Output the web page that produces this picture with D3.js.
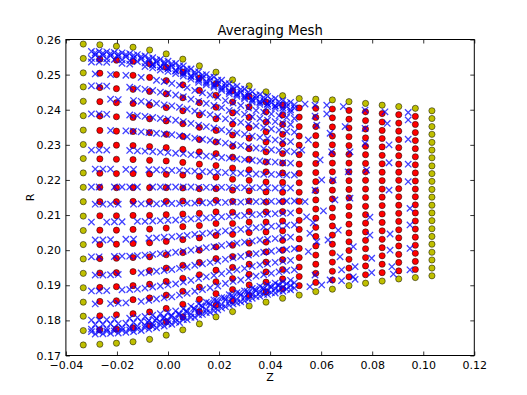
<!DOCTYPE html>
<meta charset="utf-8">
<style>
  body { margin: 0; background: #fff; }
  text { font-family: "DejaVu Sans", sans-serif; }
</style>
<svg width="527" height="395"></svg>
<script src="https://d3js.org/d3.v7.min.js"></script>
<script>

// mesh column positions along Z
var colZ = [-0.0332, -0.0267, -0.0202, -0.0137, -0.0072, -0.0007, 0.0058, 0.0123, 0.0188, 0.0253, 0.0318,
            0.0384, 0.0449, 0.0514, 0.0579, 0.0644, 0.0709, 0.0774, 0.0839, 0.0904, 0.0969, 0.1034];

// mesh node R values, one list per column, bottom to top
var meshR = [
  [.1730,.1771,.1812,.1852,.1893,.1934,.1975,.2016,.2056,.2097,.2138,.2179,.2220,.2261,.2301,.2342,.2383,.2424,.2465,.2505,.2546,.2587],
  [.1732,.1773,.1813,.1854,.1894,.1935,.1976,.2016,.2057,.2098,.2138,.2179,.2219,.2260,.2301,.2341,.2382,.2423,.2463,.2504,.2544,.2585],
  [.1735,.1775,.1816,.1856,.1896,.1936,.1977,.2017,.2057,.2098,.2138,.2178,.2218,.2259,.2299,.2339,.2380,.2420,.2460,.2500,.2541,.2581],
  [.1739,.1779,.1819,.1859,.1899,.1939,.1979,.2019,.2059,.2099,.2139,.2178,.2218,.2258,.2298,.2338,.2378,.2418,.2458,.2498,.2538,.2578],
  [.1746,.1785,.1824,.1864,.1903,.1942,.1981,.2021,.2060,.2099,.2138,.2178,.2217,.2256,.2295,.2335,.2374,.2413,.2452,.2492,.2531,.2570],
  [.1758,.1796,.1834,.1872,.1911,.1949,.1987,.2025,.2063,.2101,.2139,.2178,.2216,.2254,.2292,.2330,.2368,.2406,.2445,.2483,.2521,.2559],
  [.1773,.1810,.1846,.1883,.1920,.1957,.1993,.2030,.2067,.2103,.2140,.2177,.2214,.2250,.2287,.2324,.2360,.2397,.2434,.2471,.2507,.2544],
  [.1790,.1825,.1860,.1895,.1930,.1965,.2000,.2035,.2070,.2105,.2140,.2175,.2210,.2245,.2280,.2315,.2350,.2385,.2420,.2455,.2490,.2525],
  [.1810,.1843,.1876,.1910,.1943,.1976,.2009,.2042,.2076,.2109,.2142,.2175,.2208,.2241,.2275,.2308,.2341,.2374,.2407,.2441,.2474,.2507],
  [.1825,.1856,.1888,.1919,.1951,.1982,.2014,.2045,.2076,.2108,.2139,.2171,.2202,.2234,.2265,.2296,.2328,.2359,.2391,.2422,.2454,.2485],
  [.1841,.1871,.1901,.1931,.1960,.1990,.2020,.2050,.2080,.2110,.2140,.2169,.2199,.2229,.2259,.2289,.2319,.2349,.2378,.2408,.2438,.2468],
  [.1852,.1881,.1909,.1938,.1966,.1995,.2023,.2052,.2080,.2109,.2137,.2166,.2194,.2223,.2251,.2280,.2308,.2337,.2365,.2394,.2422,.2451],
  [.1863,.1890,.1918,.1945,.1973,.2000,.2028,.2055,.2083,.2110,.2138,.2165,.2193,.2220,.2248,.2275,.2303,.2330,.2358,.2385,.2413,.2440],
  [.1872,.1899,.1925,.1952,.1979,.2005,.2032,.2059,.2085,.2112,.2139,.2165,.2192,.2219,.2245,.2272,.2299,.2325,.2352,.2379,.2405,.2432],
  [.1882,.1908,.1934,.1960,.1986,.2012,.2039,.2065,.2091,.2117,.2143,.2169,.2195,.2221,.2247,.2273,.2300,.2326,.2352,.2378,.2404,.2430],
  [.1889,.1915,.1940,.1966,.1992,.2017,.2043,.2069,.2094,.2120,.2146,.2171,.2197,.2223,.2248,.2274,.2300,.2325,.2351,.2377,.2402,.2428],
  [.1899,.1924,.1949,.1974,.1999,.2024,.2049,.2074,.2099,.2124,.2149,.2173,.2198,.2223,.2248,.2273,.2298,.2323,.2348,.2373,.2398,.2423],
  [.1906,.1930,.1955,.1979,.2004,.2028,.2052,.2077,.2101,.2125,.2150,.2174,.2199,.2223,.2247,.2272,.2296,.2320,.2345,.2369,.2394,.2418],
  [.1912,.1936,.1960,.1984,.2007,.2031,.2055,.2079,.2103,.2127,.2151,.2174,.2198,.2222,.2246,.2270,.2294,.2318,.2341,.2365,.2389,.2413],
  [.1918,.1941,.1965,.1988,.2012,.2035,.2058,.2082,.2105,.2128,.2152,.2175,.2199,.2222,.2245,.2269,.2292,.2315,.2339,.2362,.2386,.2409],
  [.1922,.1945,.1968,.1991,.2014,.2037,.2060,.2083,.2106,.2129,.2152,.2174,.2197,.2220,.2243,.2266,.2289,.2312,.2335,.2358,.2381,.2404],
  [.1927,.1949,.1972,.1994,.2017,.2039,.2061,.2084,.2106,.2128,.2151,.2173,.2196,.2218,.2240,.2263,.2285,.2307,.2330,.2352,.2375,.2397]
];

// Z stations of the sample streaks (even streaks use A, odd use B)
var stationsA = [-0.030,-0.027,-0.024,-0.021,-0.018,-0.015,-0.012,-0.009,-0.006,-0.003,0,0.003,0.006,0.009,
                 0.012,0.015,0.018,0.021,0.024,0.027,0.030,0.033,0.036,0.039,0.042,0.045,0.048];
var stationsB = [-0.0285,-0.0255,-0.0225,-0.0195,-0.0165,-0.0135,-0.0105,-0.0075,-0.0045,-0.0015,0.0015,0.0045,0.0075,
                 0.0105,0.0135,0.0165,0.0195,0.0225,0.0255,0.0285,0.0315,0.0345,0.0375,0.0405,0.0435,0.0465,0.0495];

// R of each streak at its stations (null = gap)
var streakR = [
  [.2566,.2566,.2565,.2563,.2562,.2560,.2557,.2553,.2548,.2543,.2538,.2532,.2525,.2516,.2508,.2500,.2493,.2484,.2474,.2467,.2459,.2451,.2443,.2438,.2432,.2426,.2421],
  [.2556,.2555,.2554,.2552,.2551,.2548,.2545,.2540,.2535,.2530,.2524,.2517,.2509,.2500,.2492,.2484,.2476,.2466,.2457,.2450,.2441,.2433,.2426,.2420,.2414,.2409,.2405],
  [.2536,.2536,.2535,null,.2532,.2530,null,.2523,.2519,.2513,.2509,.2503,.2496,.2487,.2478,.2471,.2464,.2455,.2445,.2438,.2431,.2422,.2415,.2409,.2404,.2398,.2393],
  [.2502,null,.2500,null,.2498,null,.2492,null,.2484,.2480,.2475,.2470,.2463,.2455,.2448,.2442,.2435,.2426,.2419,.2412,.2405,.2398,.2393,.2388,.2383,.2378,.2375],
  [.2468,.2468,.2467,null,null,.2464,.2461,.2458,.2455,.2450,.2447,.2442,.2437,.2430,.2424,.2418,.2412,.2406,.2398,.2393,.2387,.2380,.2375,.2370,.2366,.2361,.2358],
  [null,null,.2430,.2429,null,.2426,.2424,.2421,.2418,.2414,.2411,.2407,.2402,.2396,.2391,.2386,.2381,.2374,.2369,.2364,.2359,.2354,.2349,.2345,.2342,.2338,.2336],
  [.2388,.2388,.2387,null,null,.2385,.2383,.2381,.2378,.2375,.2373,.2370,.2366,.2361,.2356,.2352,.2348,.2343,.2338,.2334,.2330,.2325,.2321,.2318,.2314,.2311,.2309],
  [null,null,.2341,null,.2340,.2339,.2337,.2335,.2333,.2331,.2329,.2326,.2323,.2319,.2316,.2313,.2309,.2305,.2301,.2298,.2295,.2291,.2289,.2286,.2284,.2282,.2280],
  [.2285,.2285,.2285,null,null,.2284,.2283,.2282,.2281,.2279,.2278,.2276,.2275,.2272,.2270,.2268,.2266,.2264,.2262,.2260,.2258,.2256,.2254,.2252,.2251,.2249,.2248],
  [.2231,.2231,.2231,null,.2230,.2230,null,.2229,.2229,.2228,.2227,.2227,.2226,.2225,.2224,.2223,.2222,.2221,.2220,.2219,.2218,.2217,.2216,.2216,.2215,.2214,.2214],
  [.2180,.2180,null,.2180,.2180,.2180,.2180,null,.2180,.2180,.2180,.2180,.2180,.2180,.2179,.2179,.2179,.2179,.2179,.2178,.2178,.2178,.2178,.2178,.2177,.2177,.2177],
  [.2131,.2131,.2131,.2131,null,.2131,.2132,.2132,.2132,.2133,.2133,.2133,.2134,.2134,.2135,.2135,.2136,.2136,.2137,.2137,.2138,.2138,.2139,.2139,.2139,.2140,.2140],
  [.2080,null,.2080,.2081,.2081,null,.2082,.2082,.2083,.2084,.2085,.2086,.2087,.2089,.2090,.2092,.2093,.2095,.2096,.2098,.2099,.2101,.2102,.2103,.2104,.2105,.2106],
  [.2029,.2029,.2030,null,.2031,.2031,null,.2034,.2035,.2037,.2038,.2040,.2042,.2045,.2047,.2049,.2052,.2055,.2057,.2059,.2062,.2064,.2066,.2068,.2069,.2071,.2072],
  [.1981,.1981,null,.1982,.1983,.1983,.1984,.1986,.1988,.1990,.1992,.1994,.1997,.2000,.2004,.2007,.2010,.2013,.2017,.2020,.2023,.2026,.2029,.2031,.2033,.2036,.2037],
  [.1929,.1929,.1930,.1931,null,null,.1935,.1937,.1940,.1942,.1945,.1948,.1952,.1957,.1961,.1965,.1969,.1974,.1978,.1982,.1986,.1990,.1994,.1997,.2000,.2002,.2004],
  [.1884,.1884,.1885,null,.1887,.1888,.1889,.1892,.1895,.1898,.1901,.1904,.1909,.1914,.1919,.1924,.1928,.1933,.1939,.1944,.1948,.1954,.1958,.1961,.1965,.1968,.1971],
  [.1847,null,.1848,.1849,.1850,null,.1854,.1857,.1861,.1864,.1867,.1872,.1877,.1883,.1888,.1893,.1898,.1905,.1911,.1915,.1921,.1926,.1930,.1934,.1938,.1942,.1944],
  [.1801,.1801,.1802,.1803,null,.1806,.1808,.1811,.1815,.1819,.1823,.1827,.1833,.1840,.1847,.1852,.1858,.1865,.1873,.1879,.1884,.1891,.1897,.1901,.1906,.1910,.1914],
  [.1761,.1762,.1763,.1764,.1766,.1768,.1771,.1775,.1779,.1784,.1789,.1794,.1802,.1809,.1817,.1823,.1830,.1839,.1847,.1853,.1861,.1868,.1874,.1879,.1884,.1889,.1892],
  [.1775,.1775,.1776,.1778,.1779,.1780,.1783,.1786,.1790,.1795,.1799,.1804,.1810,.1818,.1825,.1831,.1838,.1845,.1854,.1860,.1866,.1874,.1880,.1885,.1890,.1895,.1899],
  [.2562,.2561,.2560,.2558,.2557,.2555,.2551,.2546,.2541,.2536,.2531,.2524,.2516,.2507,.2499,.2492,.2484,.2474,.2465,.2458,.2450,.2441,.2435,.2429,.2423,.2418,.2414],
  [.2546,.2546,.2545,.2543,.2542,.2540,.2537,.2533,.2528,.2522,.2518,.2512,.2505,.2496,.2487,.2480,.2472,.2464,.2453,.2446,.2439,.2430,.2423,.2417,.2411,.2405,.2400],
  [.1788,.1789,.1790,.1791,.1792,.1794,.1797,.1800,.1805,.1809,.1813,.1818,.1825,.1832,.1839,.1845,.1851,.1859,.1866,.1872,.1878,.1885,.1890,.1895,.1900,.1904,.1907],
  [.1768,.1768,.1769,.1770,.1772,.1773,.1775,.1779,.1782,.1787,.1791,.1796,.1802,.1809,.1816,.1822,.1828,.1835,.1844,.1850,.1856,.1863,.1869,.1874,.1878,.1883,.1887]
];

// extra samples in the dense top and bottom bands
var bandPts = [
  [-0.0060,0.2527],[-0.0030,0.2522],[0.0000,0.2517],[0.0030,0.2510],[0.0060,0.2502],[0.0090,0.2494],[0.0120,0.2484],
  [0.0150,0.2476],[0.0180,0.2468],[0.0210,0.2459],[0.0240,0.2450],[0.0270,0.2443],[0.0300,0.2435],[0.0330,0.2427],
  [0.0360,0.2420],[0.0390,0.2415],[0.0420,0.2410],
  [-0.0080,0.1795],[-0.0050,0.1800],[-0.0020,0.1806],[0.0010,0.1812],[0.0040,0.1818],[0.0070,0.1826],[0.0100,0.1834],
  [0.0130,0.1842],[0.0160,0.1850],[0.0190,0.1857],[0.0220,0.1864],[0.0250,0.1871],[0.0280,0.1877],[0.0310,0.1883],
  [0.0340,0.1888],[0.0370,0.1893],[0.0400,0.1897],[0.0430,0.1901]
];

// scattered samples right of the streaks
var loosePts = [
  [0.0537,0.2416],[0.0576,0.2413],[0.0622,0.2413],[0.0687,0.2409],[0.0772,0.2399],[0.0850,0.2394],[0.0941,0.2392],
  [0.0941,0.2371],[0.0622,0.2388],[0.0576,0.2382],[0.0583,0.2356],[0.0635,0.2333],[0.0694,0.2352],[0.0772,0.2347],
  [0.0859,0.2361],[0.0550,0.2314],[0.0772,0.2304],[0.0941,0.2316],[0.0866,0.2300],[0.0713,0.2280],[0.0641,0.2280],
  [0.0596,0.2257],[0.0524,0.2285],[0.0866,0.2249],[0.0941,0.2245],[0.0778,0.2228],[0.0706,0.2223],[0.0647,0.2200],
  [0.0602,0.2200],[0.0576,0.2171],[0.0866,0.2171],[0.0654,0.2143],[0.0537,0.2138],[0.0713,0.2148],[0.0941,0.2195],
  [0.0948,0.2119],[0.0543,0.2095],[0.0609,0.2112],[0.0791,0.2094],[0.0569,0.2078],[0.0667,0.2057],[0.0556,0.2048],
  [0.0791,0.2043],[0.0870,0.2046],[0.0948,0.2072],[0.0726,0.2010],[0.0627,0.2029],[0.0583,0.2024],[0.0550,0.1996],
  [0.0870,0.2000],[0.0948,0.2005],[0.0674,0.1981],[0.0798,0.1977],[0.0733,0.1953],[0.0680,0.1944],[0.0726,0.1924],
  [0.0798,0.1936],[0.0877,0.1953],[0.0883,0.1932],[0.0948,0.1944],[0.0635,0.1915],[0.0602,0.1901],[0.0556,0.1896],
  [0.0680,0.1913],[0.0733,0.1917],[0.0576,0.1929]
];

var xTicks = [-0.04, -0.02, 0.00, 0.02, 0.04, 0.06, 0.08, 0.10, 0.12];
var yTicks = [0.17, 0.18, 0.19, 0.20, 0.21, 0.22, 0.23, 0.24, 0.25, 0.26];

var svg = d3.select("svg");
var mLeft = 65.9, mRight = 474.3, mTop = 39.5, mBottom = 355.5;

var x = d3.scaleLinear().domain([-0.04, 0.12]).range([mLeft, mRight]);
var y = d3.scaleLinear().domain([0.17, 0.26]).range([mBottom, mTop]);

var plot = svg.append("g");

// mesh nodes: boundary nodes yellow, interior red
var nodes = [];
colZ.forEach(function(z, c) {
  meshR[c].forEach(function(r, k) {
    var edge = c == 0 || c == colZ.length - 1 || k == 0 || k == meshR[c].length - 1;
    nodes.push({z: z, r: r, edge: edge});
  });
});

plot.selectAll("circle")
  .data(nodes)
  .enter().append("circle")
    .attr("cx", function(d) { return x(d.z); })
    .attr("cy", function(d) { return y(d.r); })
    .attr("r", 3.1)
    .attr("fill", function(d) { return d.edge ? "#bfbf00" : "#ff0000"; })
    .attr("stroke", "#000")
    .attr("stroke-width", 0.5);

// blue samples
var samples = [];
streakR.forEach(function(row, i) {
  var st = i % 2 == 0 ? stationsA : stationsB;
  row.forEach(function(r, k) {
    if (r != null) samples.push([st[k], r]);
  });
});
samples = samples.concat(bandPts, loosePts);

var cross = "M-3.2,-3.2L3.2,3.2M-3.2,3.2L3.2,-3.2";
plot.selectAll("path.s")
  .data(samples)
  .enter().append("path")
    .attr("class", "s")
    .attr("d", cross)
    .attr("transform", function(d) { return "translate(" + x(d[0]) + "," + y(d[1]) + ")"; })
    .attr("fill", "none")
    .attr("stroke", "#0000ff")
    .attr("stroke-opacity", 0.75)
    .attr("stroke-width", 1.3);

// axes, ticks point inward on all four sides
var fmt = d3.format(".2f");
var gx = svg.append("g").attr("transform", "translate(0," + mBottom + ")")
  .call(d3.axisBottom(x).tickValues(xTicks).tickFormat(fmt).tickSize(-4).tickPadding(6));
var gxt = svg.append("g").attr("transform", "translate(0," + mTop + ")")
  .call(d3.axisTop(x).tickValues(xTicks).tickFormat("").tickSize(-4));
var gy = svg.append("g").attr("transform", "translate(" + mLeft + ",0)")
  .call(d3.axisLeft(y).tickValues(yTicks).tickFormat(fmt).tickSize(-4).tickPadding(5));
var gyr = svg.append("g").attr("transform", "translate(" + mRight + ",0)")
  .call(d3.axisRight(y).tickValues(yTicks).tickFormat("").tickSize(-4));

[gx, gxt, gy, gyr].forEach(function(g) {
  g.select(".domain").remove();
  g.selectAll("line").attr("stroke", "#000").attr("stroke-width", 0.8);
  g.selectAll("text").attr("font-size", 11).attr("font-family", "DejaVu Sans").attr("fill", "#000");
});

svg.append("rect")
  .attr("x", mLeft).attr("y", mTop)
  .attr("width", mRight - mLeft).attr("height", mBottom - mTop)
  .attr("fill", "none").attr("stroke", "#000").attr("stroke-width", 1);

svg.append("text")
  .attr("x", (mLeft + mRight) / 2).attr("y", 35)
  .attr("text-anchor", "middle").attr("font-size", 13.2)
  .text("Averaging Mesh");

svg.append("text")
  .attr("x", (mLeft + mRight) / 2).attr("y", 381)
  .attr("text-anchor", "middle").attr("font-size", 11)
  .text("Z");

svg.append("text")
  .attr("transform", "translate(34," + (mTop + mBottom) / 2 + ") rotate(-90)")
  .attr("text-anchor", "middle").attr("font-size", 11)
  .text("R");

</script>
